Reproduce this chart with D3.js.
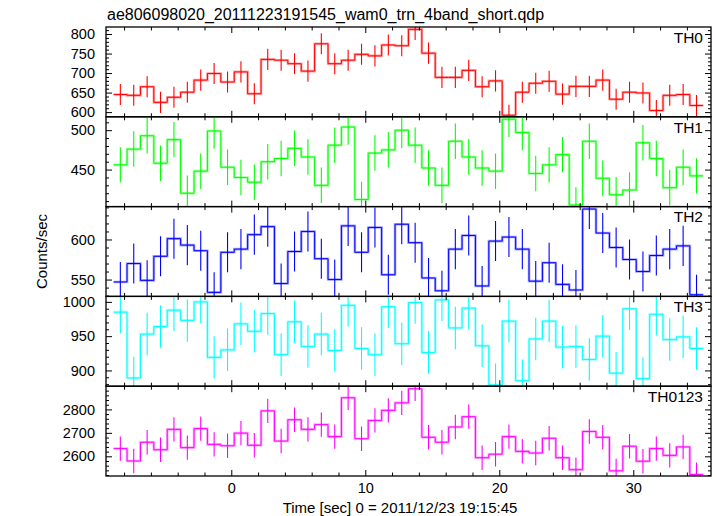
<!DOCTYPE html>
<html><head><meta charset="utf-8">
<script src="https://cdn.jsdelivr.net/npm/d3@7"></script>
<style>
body{margin:0;background:#fff}
text{font-family:"Liberation Sans",Arial,Helvetica,sans-serif;fill:#000}
</style>
</head><body><svg id="c" width="717" height="516"></svg>
<script>
// ---- data ----
const times = [-8.28,-7.28,-6.28,-5.28,-4.28,-3.28,-2.28,-1.28,-0.28,0.72,1.72,2.72,3.72,4.72,5.72,6.72,7.72,8.72,9.72,10.72,11.72,12.72,13.72,14.72,15.72,16.72,17.72,18.72,19.72,20.72,21.72,22.72,23.72,24.72,25.72,26.72,27.72,28.72,29.72,30.72,31.72,32.72,33.72,34.72];
const th0 = [645,643,665,625,638,651,682,699,677,703,647,735,733,724,705,775,724,733,748,744,772,770,812,751,689,689,707,665,680,592,651,674,679,646,666,666,682,633,651,649,604,643,645,617];
const th1 = [456,476,493,458,488,420,448,499,453,440,434,460,464,477,466,430,481,504,412,471,475,500,481,452,430,486,466,452,448,514,497,445,456,469,405,486,439,418,424,484,464,427,453,442];
const th2 = [547,570,549,579,601,593,586,534,584,588,606,616,545,585,610,576,550,617,584,615,556,619,596,552,536,588,605,542,598,603,588,548,571,544,537,638,608,590,575,560,580,588,592,531];
const th3 = [985,889,953,964,988,973,1000,919,930,968,957,983,923,971,935,953,929,995,932,923,993,939,999,926,1003,962,991,936,879,972,885,946,972,934,935,916,950,896,990,888,982,945,949,932];
const th0123 = [2633,2580,2660,2628,2715,2637,2718,2651,2645,2699,2647,2794,2665,2756,2715,2735,2684,2850,2675,2753,2796,2828,2888,2681,2660,2725,2769,2594,2609,2684,2621,2614,2677,2594,2543,2706,2681,2538,2643,2579,2633,2604,2640,2522];
const panelNames = ["TH0","TH1","TH2","TH3","TH0123"];
const panelColors = ["#ff0000","#00ff00","#0000ff","#00ffff","#ff00ff"];
const panelErrors = [27, 22.5, 25, 31, 52];
const yDomains = [[588,818],[403,517],[529,641],[877,1008],[2516,2899]];
const yMajorTicks = [[600,650,700,750,800],[450,500],[550,600],[900,950,1000],[2600,2700,2800]];
const yMinorStep = [10,10,10,10,20];
const xMajorTicks = [0,10,20,30];
const xMinorStep = 2;
const xDomain = [-9.35, 35.8];
const binWidth = 1;
const titleText = "ae806098020_20111223191545_wam0_trn_4band_short.qdp";
const xLabel = "Time [sec] 0 = 2011/12/23 19:15:45";
const yLabel = "Counts/sec";
const series = [th0, th1, th2, th3, th0123];

// ---- layout ----
const L = 106, R = 711, T = 27, B = 476;
const nP = series.length;
const pH = (B - T) / nP;
const svg = d3.select("#c");
const x = d3.scaleLinear().domain(xDomain).range([L, R]);
const xMinor = d3.range(Math.ceil(xDomain[0]/xMinorStep)*xMinorStep, xDomain[1], xMinorStep).filter(v => !xMajorTicks.includes(v));
const fs = 14.5;

svg.append("text").attr("x", 107).attr("y", 20).style("font-size","16px").text(titleText);

series.forEach((vals, p) => {
  const top = T + p * pH, bot = top + pH;
  const y = d3.scaleLinear().domain(yDomains[p]).range([bot, top]);
  const g = svg.append("g");
  const clipId = "clip" + p;
  svg.append("clipPath").attr("id", clipId).append("rect")
    .attr("x", L).attr("y", top).attr("width", R - L).attr("height", pH);
  const pg = g.append("g").attr("clip-path", `url(#${clipId})`);
  const pts = [];
  vals.forEach((v, i) => { pts.push([times[i] - binWidth/2, v]); pts.push([times[i] + binWidth/2, v]); });
  const line = d3.line().x(d => x(d[0])).y(d => y(d[1]));
  pg.append("path").attr("d", line(pts)).attr("fill","none")
    .attr("stroke", panelColors[p]).attr("stroke-opacity", 0.35).attr("stroke-width", 2.6);
  pg.append("path").attr("d", line(pts)).attr("fill","none")
    .attr("stroke", panelColors[p]).attr("stroke-width", 1);
  pg.selectAll("line.err").data(vals).join("line").attr("class","err")
    .attr("x1", (d,i) => x(times[i])).attr("x2", (d,i) => x(times[i]))
    .attr("y1", d => y(d - panelErrors[p])).attr("y2", d => y(d + panelErrors[p]))
    .attr("stroke", panelColors[p]).attr("stroke-width", 1.1);

  const yMinor = d3.range(Math.ceil(yDomains[p][0]/yMinorStep[p])*yMinorStep[p], yDomains[p][1], yMinorStep[p]).filter(v => !yMajorTicks[p].includes(v));
  const ax = (axis, tr) => {
    const a = g.append("g").attr("transform", tr).call(axis);
    a.select(".domain").remove();
    a.selectAll("line").attr("stroke","#000").attr("stroke-width",1);
    return a;
  };
  // y major + minor, left (labelled) and right
  const yl = ax(d3.axisLeft(y).tickValues(yMajorTicks[p]).tickSize(-6).tickPadding(11).tickFormat(d3.format("d")), `translate(${L},0)`);
  yl.selectAll("text").style("font-size", fs + "px").attr("font-family", null);
  ax(d3.axisLeft(y).tickValues(yMinor).tickSize(-3).tickFormat(""), `translate(${L},0)`);
  ax(d3.axisRight(y).tickValues(yMajorTicks[p]).tickSize(-6).tickFormat(""), `translate(${R},0)`);
  ax(d3.axisRight(y).tickValues(yMinor).tickSize(-3).tickFormat(""), `translate(${R},0)`);
  // x ticks top & bottom
  ax(d3.axisTop(x).tickValues(xMajorTicks).tickSize(-6).tickFormat(""), `translate(0,${top})`);
  ax(d3.axisTop(x).tickValues(xMinor).tickSize(-3.5).tickFormat(""), `translate(0,${top})`);
  const xb = ax(d3.axisBottom(x).tickValues(xMajorTicks).tickSize(-6).tickPadding(7).tickFormat(p === nP-1 ? d3.format("d") : ""), `translate(0,${bot})`);
  xb.selectAll("text").style("font-size", fs + "px").attr("font-family", null);
  ax(d3.axisBottom(x).tickValues(xMinor).tickSize(-3.5).tickFormat(""), `translate(0,${bot})`);

  g.append("rect").attr("x", L).attr("y", top).attr("width", R - L).attr("height", pH)
    .attr("fill","none").attr("stroke","#000").attr("stroke-width",1.3);
  g.append("text").attr("x", 703).attr("y", top + 15.7).attr("text-anchor","end")
    .style("font-size","15.5px").text(panelNames[p]);
});

svg.append("text").attr("x", 400).attr("y", 513).attr("text-anchor","middle")
  .style("font-size","15px").text(xLabel);
svg.append("text").attr("transform", `translate(47,${(T+B)/2}) rotate(-90)`).attr("text-anchor","middle")
  .style("font-size","15px").text(yLabel);
</script>
</body></html>
